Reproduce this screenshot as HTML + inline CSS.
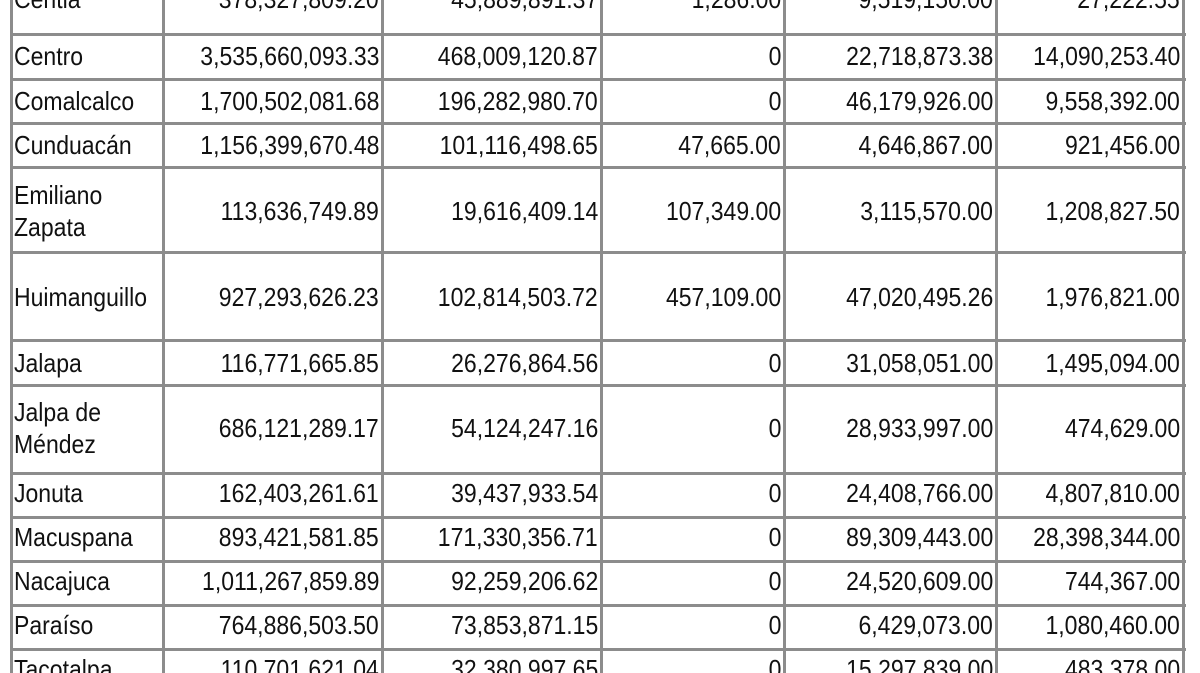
<!DOCTYPE html>
<html><head><meta charset="utf-8"><style>
html,body{margin:0;width:1200px;height:673px;overflow:hidden}
body{background:#fff;position:relative;font-family:"Liberation Sans",Arial,sans-serif;font-size:26px;color:#111}
.v{position:absolute;top:0;height:673px;width:3px;background:#8c8c8c}
.h{position:absolute;left:10px;width:1176px;height:3px;background:#8c8c8c}
.c{position:absolute;white-space:nowrap;line-height:32px;transform:scaleX(0.885);transform-origin:left center}
.r{text-align:right;transform-origin:right center}
</style></head><body>
<div class="v" style="left:10px"></div><div class="v" style="left:162px"></div><div class="v" style="left:381px"></div><div class="v" style="left:600px"></div><div class="v" style="left:783px"></div><div class="v" style="left:995px"></div><div class="v" style="left:1182px"></div>
<div class="h" style="top:33px"></div><div class="h" style="top:78px"></div><div class="h" style="top:122px"></div><div class="h" style="top:166px"></div><div class="h" style="top:251px"></div><div class="h" style="top:339px"></div><div class="h" style="top:384px"></div><div class="h" style="top:472px"></div><div class="h" style="top:516px"></div><div class="h" style="top:560px"></div><div class="h" style="top:604px"></div><div class="h" style="top:648px"></div>
<div id="t"></div>
<script>
var rows=[
[-1,"Centla","378,327,809.20","45,889,891.37","1,286.00","9,519,150.00","27,222.55"],
[56,"Centro","3,535,660,093.33","468,009,120.87","0","22,718,873.38","14,090,253.40"],
[101,"Comalcalco","1,700,502,081.68","196,282,980.70","0","46,179,926.00","9,558,392.00"],
[145,"Cunduacán","1,156,399,670.48","101,116,498.65","47,665.00","4,646,867.00","921,456.00"],
[211,"Emiliano<br>Zapata","113,636,749.89","19,616,409.14","107,349.00","3,115,570.00","1,208,827.50"],
[297,"Huimanguillo","927,293,626.23","102,814,503.72","457,109.00","47,020,495.26","1,976,821.00"],
[363,"Jalapa","116,771,665.85","26,276,864.56","0","31,058,051.00","1,495,094.00"],
[428,"Jalpa de<br>Méndez","686,121,289.17","54,124,247.16","0","28,933,997.00","474,629.00"],
[493,"Jonuta","162,403,261.61","39,437,933.54","0","24,408,766.00","4,807,810.00"],
[537,"Macuspana","893,421,581.85","171,330,356.71","0","89,309,443.00","28,398,344.00"],
[581,"Nacajuca","1,011,267,859.89","92,259,206.62","0","24,520,609.00","744,367.00"],
[625,"Paraíso","764,886,503.50","73,853,871.15","0","6,429,073.00","1,080,460.00"],
[669,"Tacotalpa","110,701,621.04","32,380,997.65","0","15,297,839.00","483,378.00"]];
var rx=[381,600,783,995,1182],h="";
rows.forEach(function(r){var y=r[0];
 var two=r[1].indexOf("<br>")>0;
 h+='<div class="c" style="left:14px;top:'+(y-(two?32:16))+'px">'+r[1]+'</div>';
 for(var i=0;i<5;i++)h+='<div class="c r" style="right:'+(1200-rx[i]+2)+'px;top:'+(y-16)+'px">'+r[i+2]+'</div>';});
document.getElementById("t").innerHTML=h;
</script>
</body></html>
